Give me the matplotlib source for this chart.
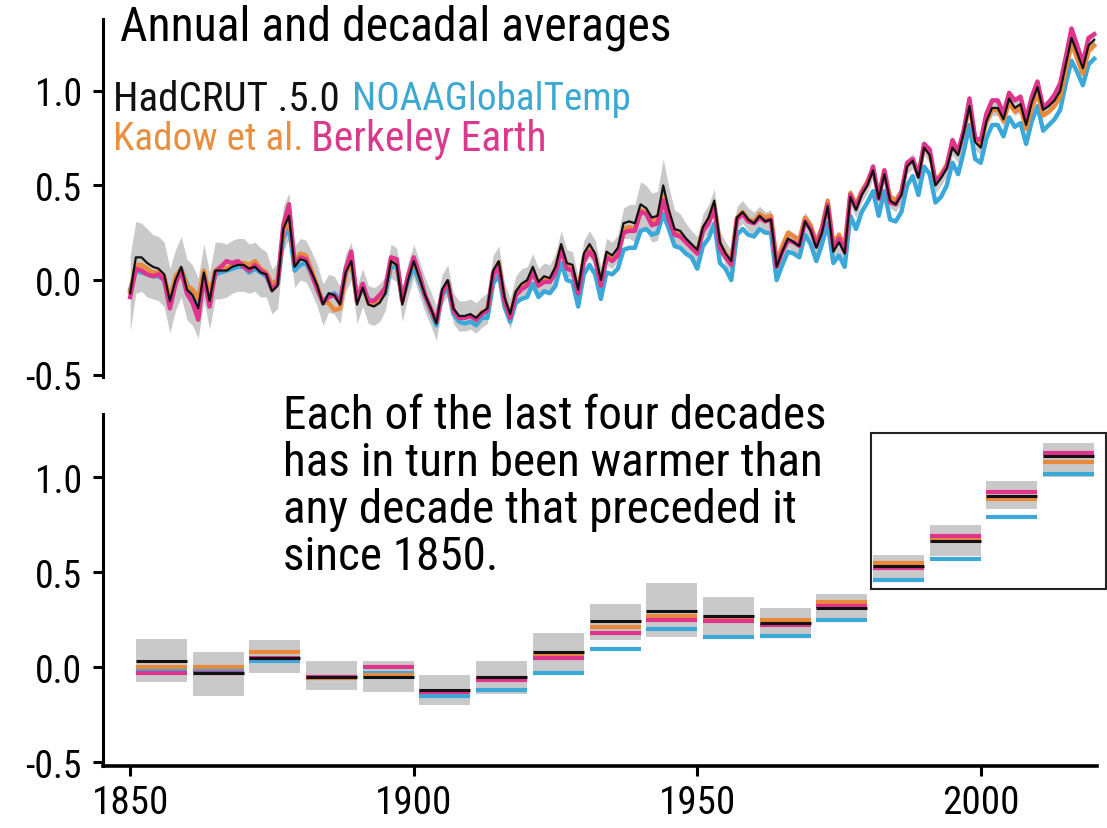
import matplotlib
matplotlib.use("Agg")
import matplotlib.pyplot as plt
from matplotlib import font_manager
from matplotlib.patches import Rectangle
import numpy as np

# annual global mean temperature change (deg C), 1850-2020
years = list(range(1850, 2021))

hadcrut = [
    -0.07, 0.12, 0.12, 0.09, 0.07, 0.06, 0.03, -0.11, 0.00, 0.07,
    -0.05, -0.08, -0.15, 0.04, -0.11, 0.05, 0.05, 0.05, 0.07, 0.08,
    0.08, 0.06, 0.07, 0.04, 0.03, -0.06, -0.03, 0.27, 0.34, 0.07,
    0.11, 0.10, 0.04, -0.03, -0.13, -0.07, -0.08, -0.13, 0.04, 0.10,
    -0.13, -0.04, -0.13, -0.14, -0.12, -0.07, 0.10, 0.08, -0.13, 0.00,
    0.10, 0.01, -0.08, -0.15, -0.23, -0.05, 0.00, -0.15, -0.19, -0.19,
    -0.18, -0.20, -0.17, -0.15, 0.05, 0.10, -0.09, -0.18, -0.06, -0.02,
    0.00, 0.07, -0.01, 0.02, 0.01, 0.07, 0.19, 0.09, 0.08, -0.05,
    0.14, 0.19, 0.14, 0.00, 0.15, 0.13, 0.17, 0.30, 0.31, 0.30,
    0.40, 0.38, 0.33, 0.34, 0.50, 0.37, 0.27, 0.26, 0.22, 0.19,
    0.16, 0.28, 0.33, 0.42, 0.20, 0.14, 0.10, 0.33, 0.36, 0.32,
    0.30, 0.34, 0.31, 0.32, 0.07, 0.15, 0.22, 0.20, 0.18, 0.31,
    0.26, 0.17, 0.25, 0.39, 0.15, 0.20, 0.14, 0.44, 0.37, 0.45,
    0.50, 0.58, 0.43, 0.56, 0.42, 0.40, 0.45, 0.60, 0.63, 0.54,
    0.70, 0.66, 0.50, 0.54, 0.59, 0.70, 0.66, 0.78, 0.92, 0.73,
    0.70, 0.84, 0.91, 0.91, 0.85, 0.96, 0.91, 0.93, 0.82, 0.94,
    1.02, 0.90, 0.92, 0.95, 1.00, 1.14, 1.28, 1.20, 1.12, 1.24,
    1.27]

# half width of the HadCRUT uncertainty band
hadcrut_unc = [
    0.20, 0.19, 0.18, 0.18, 0.17, 0.17, 0.17, 0.17, 0.16, 0.16,
    0.16, 0.16, 0.16, 0.15, 0.15, 0.15, 0.15, 0.14, 0.14, 0.14,
    0.14, 0.13, 0.13, 0.13, 0.12, 0.12, 0.12, 0.12, 0.12, 0.11,
    0.11, 0.11, 0.11, 0.11, 0.11, 0.10, 0.10, 0.10, 0.10, 0.10,
    0.10, 0.10, 0.10, 0.10, 0.10, 0.09, 0.09, 0.09, 0.09, 0.09,
    0.09, 0.09, 0.09, 0.09, 0.09, 0.08, 0.08, 0.08, 0.08, 0.08,
    0.08, 0.08, 0.08, 0.08, 0.08, 0.08, 0.08, 0.08, 0.08, 0.08,
    0.07, 0.07, 0.07, 0.07, 0.07, 0.07, 0.07, 0.07, 0.07, 0.07,
    0.07, 0.07, 0.07, 0.07, 0.07, 0.07, 0.07, 0.08, 0.09, 0.10,
    0.12, 0.12, 0.13, 0.13, 0.14, 0.12, 0.10, 0.09, 0.08, 0.07,
    0.07, 0.07, 0.07, 0.06, 0.06, 0.06, 0.06, 0.06, 0.06, 0.06,
    0.06, 0.05, 0.05, 0.05, 0.05, 0.05, 0.05, 0.05, 0.05, 0.05,
    0.05, 0.05, 0.05, 0.05, 0.05, 0.05, 0.05, 0.05, 0.04, 0.04,
    0.04, 0.04, 0.04, 0.04, 0.04, 0.04, 0.04, 0.04, 0.04, 0.04,
    0.04, 0.04, 0.04, 0.04, 0.04, 0.04, 0.04, 0.04, 0.04, 0.04,
    0.04, 0.04, 0.04, 0.04, 0.04, 0.04, 0.04, 0.04, 0.04, 0.04,
    0.04, 0.04, 0.04, 0.04, 0.04, 0.04, 0.04, 0.04, 0.04, 0.04,
    0.04]

noaa = [
    -0.05, 0.05, 0.04, 0.03, 0.02, 0.02, 0.00, -0.10, 0.00, 0.06,
    -0.02, -0.08, -0.12, 0.03, -0.08, 0.03, 0.04, 0.05, 0.06, 0.07,
    0.07, 0.04, 0.06, 0.04, 0.02, -0.05, -0.02, 0.22, 0.28, 0.05,
    0.08, 0.09, 0.03, -0.04, -0.12, -0.08, -0.07, -0.11, 0.03, 0.10,
    -0.10, -0.05, -0.10, -0.12, -0.10, -0.07, 0.07, 0.07, -0.10, -0.01,
    0.07, -0.01, -0.09, -0.17, -0.24, -0.08, -0.04, -0.18, -0.22, -0.23,
    -0.22, -0.24, -0.20, -0.20, -0.02, 0.03, -0.14, -0.22, -0.12, -0.10,
    -0.09, -0.02, -0.09, -0.06, -0.07, -0.03, 0.09, 0.00, -0.01, -0.14,
    0.03, 0.08, 0.03, -0.10, 0.04, 0.03, 0.06, 0.16, 0.17, 0.17,
    0.26, 0.27, 0.24, 0.25, 0.35, 0.27, 0.18, 0.17, 0.14, 0.12,
    0.06, 0.18, 0.22, 0.30, 0.09, 0.06, 0.00, 0.24, 0.27, 0.24,
    0.23, 0.27, 0.25, 0.25, 0.00, 0.08, 0.15, 0.14, 0.12, 0.24,
    0.19, 0.10, 0.19, 0.30, 0.09, 0.13, 0.07, 0.34, 0.27, 0.36,
    0.41, 0.47, 0.34, 0.47, 0.32, 0.31, 0.36, 0.50, 0.55, 0.45,
    0.60, 0.56, 0.41, 0.44, 0.50, 0.62, 0.56, 0.68, 0.82, 0.64,
    0.62, 0.75, 0.82, 0.82, 0.76, 0.86, 0.81, 0.83, 0.72, 0.84,
    0.92, 0.79, 0.82, 0.85, 0.90, 1.04, 1.16, 1.10, 1.03, 1.14,
    1.17]

kadow = [
    -0.06, 0.08, 0.08, 0.06, 0.04, 0.04, 0.02, -0.10, 0.02, 0.06,
    -0.03, -0.05, -0.10, 0.05, -0.08, 0.05, 0.07, 0.06, 0.08, 0.09,
    0.09, 0.08, 0.10, 0.06, 0.04, -0.02, 0.00, 0.25, 0.33, 0.10,
    0.14, 0.13, 0.05, -0.03, -0.12, -0.12, -0.16, -0.15, 0.03, 0.10,
    -0.11, -0.03, -0.12, -0.13, -0.10, -0.05, 0.10, 0.09, -0.11, 0.02,
    0.11, 0.02, -0.08, -0.16, -0.22, -0.07, -0.01, -0.16, -0.20, -0.20,
    -0.19, -0.21, -0.17, -0.16, 0.04, 0.09, -0.10, -0.19, -0.07, -0.03,
    -0.02, 0.05, -0.02, 0.01, 0.00, 0.06, 0.17, 0.07, 0.06, -0.06,
    0.12, 0.17, 0.12, -0.02, 0.13, 0.11, 0.15, 0.27, 0.28, 0.27,
    0.37, 0.36, 0.31, 0.32, 0.46, 0.35, 0.25, 0.24, 0.21, 0.18,
    0.15, 0.27, 0.32, 0.40, 0.19, 0.14, 0.10, 0.33, 0.36, 0.32,
    0.31, 0.35, 0.33, 0.34, 0.10, 0.18, 0.25, 0.23, 0.21, 0.33,
    0.29, 0.20, 0.28, 0.42, 0.19, 0.24, 0.18, 0.46, 0.40, 0.47,
    0.52, 0.59, 0.45, 0.58, 0.44, 0.42, 0.47, 0.61, 0.64, 0.56,
    0.71, 0.67, 0.52, 0.56, 0.61, 0.72, 0.67, 0.79, 0.92, 0.74,
    0.72, 0.84, 0.90, 0.90, 0.84, 0.94, 0.89, 0.91, 0.80, 0.91,
    0.99, 0.87, 0.89, 0.92, 0.97, 1.11, 1.25, 1.17, 1.09, 1.21,
    1.24]

berkeley = [
    -0.09, 0.06, 0.05, 0.03, 0.02, 0.03, 0.00, -0.15, -0.02, 0.05,
    -0.07, -0.12, -0.21, 0.02, -0.14, 0.04, 0.07, 0.10, 0.09, 0.10,
    0.07, 0.05, 0.08, 0.05, 0.03, -0.05, -0.02, 0.29, 0.40, 0.08,
    0.12, 0.11, 0.03, -0.05, -0.12, -0.09, -0.08, -0.12, 0.06, 0.15,
    -0.11, -0.02, -0.11, -0.11, -0.08, -0.04, 0.12, 0.11, -0.11, 0.02,
    0.12, 0.03, -0.08, -0.15, -0.22, -0.07, -0.01, -0.16, -0.20, -0.20,
    -0.19, -0.21, -0.18, -0.16, 0.03, 0.07, -0.11, -0.20, -0.08, -0.05,
    -0.03, 0.04, -0.03, -0.01, -0.01, 0.04, 0.16, 0.06, 0.05, -0.07,
    0.10, 0.15, 0.11, -0.03, 0.12, 0.10, 0.13, 0.25, 0.26, 0.26,
    0.36, 0.35, 0.29, 0.30, 0.42, 0.32, 0.24, 0.23, 0.20, 0.17,
    0.14, 0.26, 0.30, 0.38, 0.17, 0.12, 0.08, 0.32, 0.35, 0.31,
    0.30, 0.33, 0.31, 0.32, 0.07, 0.15, 0.21, 0.20, 0.18, 0.31,
    0.27, 0.18, 0.27, 0.40, 0.17, 0.22, 0.15, 0.45, 0.38, 0.46,
    0.51, 0.60, 0.43, 0.58, 0.41, 0.40, 0.46, 0.62, 0.64, 0.55,
    0.72, 0.69, 0.52, 0.55, 0.60, 0.74, 0.68, 0.79, 0.96, 0.75,
    0.74, 0.88, 0.95, 0.95, 0.88, 0.99, 0.95, 0.97, 0.85, 0.97,
    1.05, 0.91, 0.94, 0.98, 1.04, 1.18, 1.33, 1.24, 1.15, 1.28,
    1.30]

# decadal averages (1851-1860 ... 2011-2020)
dec_start = [1851, 1861, 1871, 1881, 1891, 1901, 1911, 1921, 1931,
             1941, 1951, 1961, 1971, 1981, 1991, 2001, 2011]
dec_hadcrut = [0.03, -0.03, 0.05, -0.05, -0.05, -0.12, -0.05, 0.08, 0.24,
               0.295, 0.27, 0.23, 0.31, 0.53, 0.665, 0.90, 1.11]
dec_kadow = [0.00, 0.00, 0.08, -0.06, -0.04, -0.13, -0.06, 0.06, 0.21,
             0.27, 0.26, 0.25, 0.34, 0.55, 0.68, 0.885, 1.08]
dec_berkeley = [-0.03, -0.03, 0.05, -0.05, 0.00, -0.13, -0.07, 0.05, 0.18,
                0.25, 0.24, 0.22, 0.32, 0.52, 0.69, 0.92, 1.125]
dec_noaa = [-0.02, -0.02, 0.03, -0.05, -0.03, -0.15, -0.12, -0.03, 0.095,
            0.20, 0.16, 0.165, 0.25, 0.46, 0.57, 0.79, 1.015]
dec_lo = [-0.08, -0.15, -0.03, -0.12, -0.13, -0.20, -0.14, -0.02, 0.14,
          0.16, 0.15, 0.16, 0.24, 0.45, 0.585, 0.83, 1.00]
dec_hi = [0.15, 0.08, 0.14, 0.03, 0.03, -0.04, 0.03, 0.18, 0.33,
          0.44, 0.37, 0.31, 0.385, 0.59, 0.745, 0.98, 1.18]

c_black = "#111111"
c_blue = "#3AA8D8"
c_orange = "#E8893B"
c_magenta = "#E0338C"
c_gray = "#C9C9C9"

# a condensed face if one is there, otherwise plain Liberation Sans
fam, k = "Liberation Sans", 0.86
for name, scale in [("Liberation Sans Narrow", 1.0), ("Roboto Condensed", 0.97),
                    ("Open Sans Condensed", 0.95), ("Arial Narrow", 1.0)]:
    try:
        font_manager.findfont(name, fallback_to_default=False)
        fam, k = name, scale
        break
    except Exception:
        pass
plt.rcParams["font.family"] = [fam, "DejaVu Sans"]
plt.rcParams["axes.unicode_minus"] = False

fig = plt.figure(figsize=(11.07, 8.29), dpi=100)
ax1 = fig.add_axes([0.093, 0.544, 0.898, 0.432])
ax2 = fig.add_axes([0.093, 0.075, 0.898, 0.424])

# top panel: annual values
yrs = np.array(years)
h = np.array(hadcrut)
u = np.array(hadcrut_unc)
ax1.fill_between(yrs, h - u, h + u, color=c_gray, lw=0)
ax1.plot(yrs, noaa, color=c_blue, lw=3.2)
ax1.plot(yrs, kadow, color=c_orange, lw=3.2)
ax1.plot(yrs, berkeley, color=c_magenta, lw=3.2)
ax1.plot(yrs, h, color=c_black, lw=1.6)

# bottom panel: decadal values
ds = np.array(dec_start)
lo = np.array(dec_lo)
hi = np.array(dec_hi)
ax2.bar(ds, hi - lo, bottom=lo, width=9, align="edge", color=c_gray, lw=0)
ax2.hlines(dec_noaa, ds, ds + 9, color=c_blue, lw=3)
ax2.hlines(dec_kadow, ds, ds + 9, color=c_orange, lw=3)
ax2.hlines(dec_berkeley, ds, ds + 9, color=c_magenta, lw=3)
ax2.hlines(dec_hadcrut, ds, ds + 9, color=c_black, lw=2.2)
ax2.add_patch(Rectangle((1980.7, 0.41), 41.3, 0.82, fill=False,
                        ec="#222222", lw=1.5, clip_on=False))

for ax in (ax1, ax2):
    ax.set_xlim(1845.2, 2020.5)
    for s in ("top", "right"):
        ax.spines[s].set_visible(False)
    ax.spines["left"].set_linewidth(2.2)
    ax.set_yticks([-0.5, 0.0, 0.5, 1.0])
    ax.set_yticklabels(["-0.5", "0.0", "0.5", "1.0"])
    ax.tick_params(axis="y", length=7, width=2.2, labelsize=28 * k, pad=8)
    ax.set_facecolor("none")

ax1.set_ylim(-0.513, 1.381)
ax1.spines["bottom"].set_visible(False)
ax1.set_xticks([])

ax2.set_ylim(-0.52, 1.33)
ax2.spines["bottom"].set_linewidth(2.6)
ax2.set_xticks([1850, 1900, 1950, 2000])
ax2.tick_params(axis="x", length=7, width=2.2, labelsize=29 * k, pad=6)

fig.text(0.108, 0.967, "Annual and decadal averages", fontsize=35.5 * k,
         va="center", ha="left")
fig.text(0.102, 0.880, "HadCRUT .5.0", fontsize=30.5 * k, color="#111111",
         va="center")
fig.text(0.318, 0.880, "NOAAGlobalTemp", fontsize=29 * k, color="#3DA9D2",
         va="center")
fig.text(0.102, 0.832, "Kadow et al.", fontsize=29 * k, color="#E8903F",
         va="center")
fig.text(0.281, 0.832, "Berkeley Earth", fontsize=31 * k, color="#DA3A8C",
         va="center")

fig.text(0.256, 0.525,
         "Each of the last four decades\nhas in turn been warmer than\n"
         "any decade that preceded it\nsince 1850.",
         fontsize=35 * k, va="top", ha="left", linespacing=1.09)

fig.savefig("out.png", dpi=100)
